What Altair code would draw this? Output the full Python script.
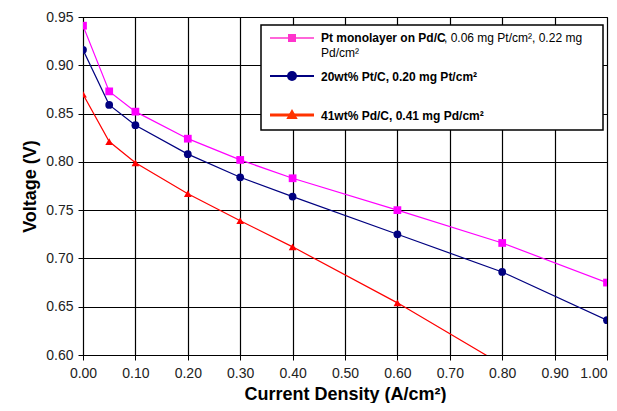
import altair as alt
import pandas as pd

current = [0.00, 0.05, 0.10, 0.20, 0.30, 0.40, 0.60, 0.80, 1.00]
pt_ml = [0.941, 0.873, 0.852, 0.824, 0.802, 0.783, 0.750, 0.716, 0.675]
pt_c = [0.916, 0.859, 0.838, 0.808, 0.784, 0.764, 0.725, 0.686, 0.636]
current_pd = [0.00, 0.05, 0.10, 0.20, 0.30, 0.40, 0.60, 0.80]
pd_c = [0.870, 0.821, 0.799, 0.767, 0.739, 0.712, 0.654, 0.590]

series = ["Pt monolayer on Pd/C", "20wt% Pt/C", "41wt% Pd/C"]
colors = ["#FF00FF", "#000080", "#FF0000"]
shapes = ["square", "circle", "triangle-up"]

x_ticks = [0.0, 0.1, 0.2, 0.3, 0.4, 0.5, 0.6, 0.7, 0.8, 0.9, 1.0]
y_ticks = [0.60, 0.65, 0.70, 0.75, 0.80, 0.85, 0.90, 0.95]

rows = []
for s, xs, ys in [(series[0], current, pt_ml), (series[1], current, pt_c), (series[2], current_pd, pd_c)]:
    for x, y in zip(xs, ys):
        rows.append({"series": s, "x": x, "y": y})
df = pd.DataFrame(rows)

FONT = "Liberation Sans"

xenc = alt.X("x:Q", scale=alt.Scale(domain=[0, 1], nice=False),
             axis=alt.Axis(values=x_ticks, format=".2f", title="Current Density (A/cm²)",
                           titlePadding=5, labelFlush=False, labelPadding=6,
                           labelAlign={"expr": "datum.value >= 0.99 ? 'right' : 'center'"}))
yenc = alt.Y("y:Q", scale=alt.Scale(domain=[0.6, 0.95], nice=False),
             axis=alt.Axis(values=y_ticks, format=".2f", title="Voltage (V)", titlePadding=6,
                           labelFlush=False, labelPadding=5))
cenc = alt.Color("series:N", scale=alt.Scale(domain=series, range=colors), legend=None)
senc = alt.Shape("series:N", scale=alt.Scale(domain=series, range=shapes), legend=None)

lines = alt.Chart(df).mark_line(clip=True, strokeWidth=1.2).encode(x=xenc, y=yenc, color=cenc, detail="series:N")
points = alt.Chart(df).mark_point(clip=True, filled=True, size=60, opacity=1).encode(
    x=xenc, y=yenc, color=cenc, shape=senc)

one = pd.DataFrame({"k": [0]})

def lrule(x1, x2, y, color, w):
    return alt.Chart(one).mark_rule(color=color, strokeWidth=w).encode(
        x=alt.value(x1), x2=alt.value(x2), y=alt.value(y))

def lpoint(x, y, color, shape, size):
    return alt.Chart(one).mark_point(filled=True, color=color, shape=shape, size=size, opacity=1).encode(
        x=alt.value(x), y=alt.value(y))

def ltext(x, y, txt, bold):
    return alt.Chart(one).mark_text(align="left", baseline="middle", font=FONT, fontSize=12,
                                    fontWeight="bold" if bold else "normal", color="black").encode(
        x=alt.value(x), y=alt.value(y), text=alt.value(txt))

box = alt.Chart(one).mark_rect(fill="white", stroke="black", strokeWidth=1.5).encode(
    x=alt.value(178), x2=alt.value(520), y=alt.value(8), y2=alt.value(113))

legend_layers = [
    box,
    lrule(187, 231, 21, "#FF33CC", 1.5), lpoint(209, 21, "#FF33CC", "square", 64),
    ltext(238, 21, "Pt monolayer on Pd/C", True),
    ltext(361, 21, ", 0.06 mg Pt/cm², 0.22 mg", False),
    ltext(238, 36, "Pd/cm²", False),
    lrule(187, 231, 59, "#000080", 2), lpoint(209, 59, "#000080", "circle", 100),
    ltext(238, 60, "20wt% Pt/C, 0.20 mg Pt/cm²", True),
    lrule(187, 231, 98, "#FF3300", 3), lpoint(209, 97, "#FF3300", "triangle-up", 130),
    ltext(238, 99, "41wt% Pd/C, 0.41 mg Pd/cm²", True),
]

chart = alt.layer(lines, points, *legend_layers).properties(
    width=524, height=338,
    autosize=alt.AutoSizeParams(type="none"),
    padding={"left": 75, "top": 9, "right": 2, "bottom": 48},
).configure_view(stroke="black", strokeWidth=1).configure_axis(
    grid=True, gridColor="black", gridOpacity=1, gridWidth=1.2,
    domainColor="black", domainWidth=1, tickColor="black", tickSize=5,
    labelFont=FONT, labelFontSize=14, labelColor="#222222",
    titleFont=FONT, titleFontSize=18, titleFontWeight="bold", titleColor="black",
)

chart.save("out.html", embed_options={"renderer": "svg", "actions": False})
